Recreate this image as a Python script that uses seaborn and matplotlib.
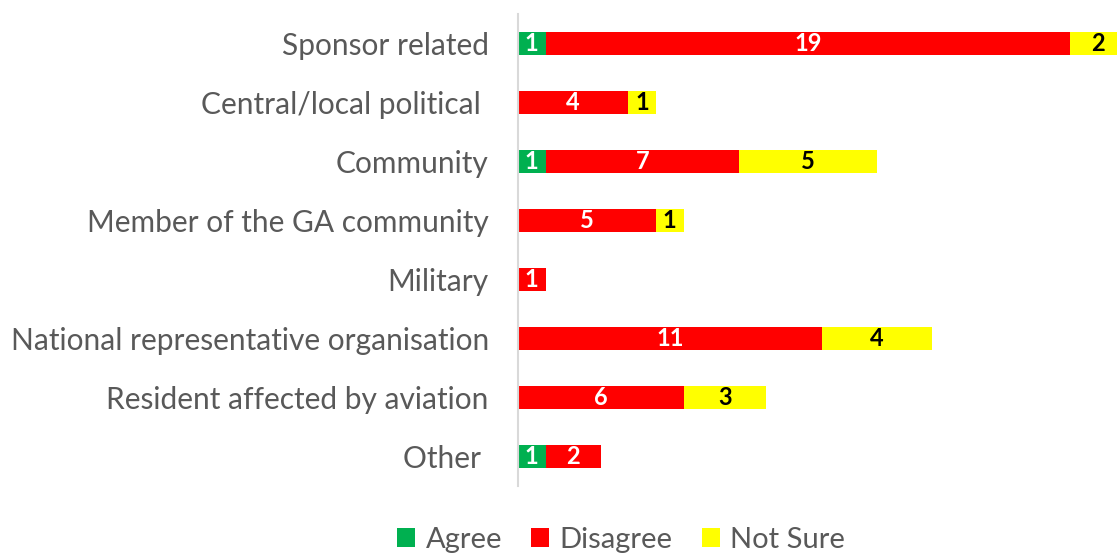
import numpy as np
import pandas as pd
import seaborn as sns
import matplotlib.pyplot as plt
from matplotlib.patches import Patch

categories = [
    "Sponsor related",
    "Central/local political ",
    "Community",
    "Member of the GA community",
    "Military",
    "National representative organisation",
    "Resident affected by aviation",
    "Other ",
]
agree = [1, 0, 1, 0, 0, 0, 0, 1]
disagree = [19, 4, 7, 5, 1, 11, 6, 2]
not_sure = [2, 1, 5, 1, 0, 4, 3, 0]

series_names = ["Agree", "Disagree", "Not Sure"]
series_vals = [agree, disagree, not_sure]
colors = {"Agree": "#00B050", "Disagree": "#FF0000", "Not Sure": "#FFFF00"}
text_colors = {"Agree": "white", "Disagree": "white", "Not Sure": "black"}

sns.set_theme(style="white")
plt.rcParams["font.family"] = ["Lato", "DejaVu Sans"]

fig = plt.figure(figsize=(11.17, 5.56), dpi=100)
W, H = 1117, 556
x0, unit = 518, 27.6
xmax = 22
ax = fig.add_axes([x0 / W, 1 - 486 / H, (unit * xmax) / W, (486 - 14) / H])

df = pd.DataFrame({"category": categories})
starts = {}
cum = np.zeros(len(categories))
for name, vals in zip(series_names, series_vals):
    starts[name] = cum.copy()
    cum = cum + np.array(vals, dtype=float)
    df[name] = cum

# stacked look: draw cumulative totals from the largest down
for name in reversed(series_names):
    sns.barplot(data=df, y="category", x=name, order=categories, orient="h",
                color=colors[name], width=0.4, saturation=1, ax=ax,
                edgecolor="none", linewidth=0)

for name, vals in zip(series_names, series_vals):
    for i, v in enumerate(vals):
        if v > 0:
            ax.text(starts[name][i] + v / 2, i, f"{v}", ha="center", va="center",
                    color=text_colors[name], fontsize=17, fontweight="bold")

ax.set_ylim(len(categories) - 0.5, -0.5)
ax.set_xlim(0, xmax)
ax.set_xlabel("")
ax.set_ylabel("")
ax.set_xticks([])
ax.tick_params(axis="y", length=0, pad=21, labelsize=21.5, labelcolor="#595959")
for s in ["top", "right", "bottom"]:
    ax.spines[s].set_visible(False)
ax.spines["left"].set_color("#D9D9D9")
ax.spines["left"].set_linewidth(1.5)

handles = [Patch(facecolor=colors[n], edgecolor="none", label=n) for n in series_names]
fig.legend(handles=handles, loc="center", bbox_to_anchor=(621 / W, 1 - 540 / H),
           ncol=3, frameon=False, fontsize=21, labelcolor="#595959",
           handlelength=0.62, handleheight=0.62, handletextpad=0.35, columnspacing=1.0)

fig.savefig("out.png", dpi=100)
